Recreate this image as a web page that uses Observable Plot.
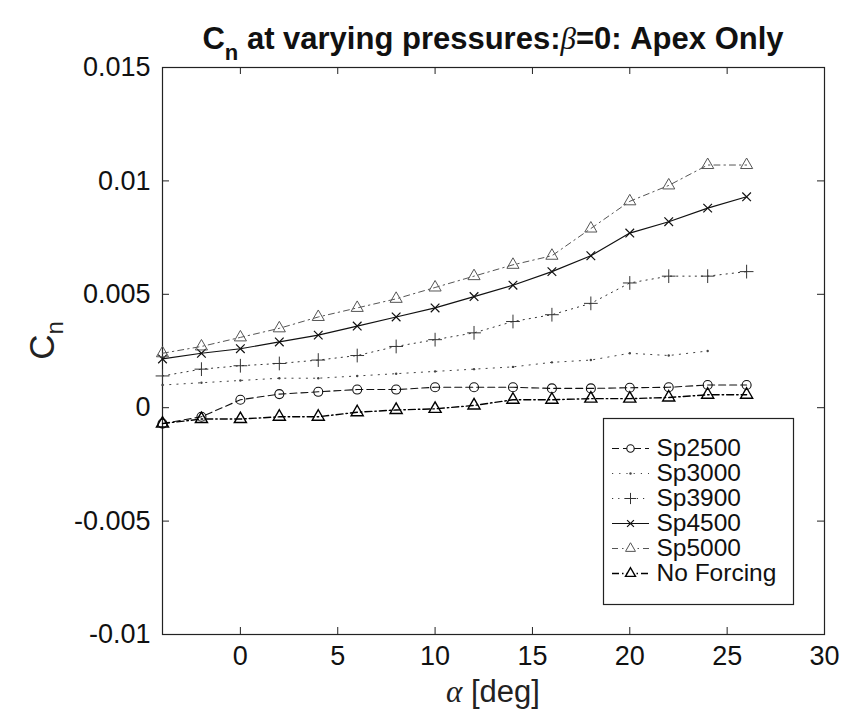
<!DOCTYPE html>
<html><head><meta charset="utf-8">
<script src="https://cdn.jsdelivr.net/npm/d3@7"></script>
<script src="https://cdn.jsdelivr.net/npm/@observablehq/plot@0.6"></script>
<style>
body{margin:0;background:#fff;}
#wrap{position:relative;width:843px;height:713px;overflow:hidden;}
#legend{position:absolute;left:603px;top:418px;}
</style></head><body><div id="wrap"></div><div id="legend"></div>
<script>
// ---- data ----
const alpha = [-4,-2,0,2,4,6,8,10,12,14,16,18,20,22,24,26];
const alpha3000 = [-4,-2,0,2,4,6,8,10,12,14,16,18,20,22,24];
const sp2500 = [-0.0007,-0.0004,0.00035,0.0006,0.0007,0.0008,0.0008,0.0009,0.0009,0.0009,0.00085,0.00085,0.00088,0.0009,0.001,0.001];
const sp3000 = [0.001,0.0011,0.0012,0.0013,0.0013,0.0014,0.0015,0.0016,0.0017,0.0018,0.002,0.0021,0.0024,0.0023,0.0025];
const sp3900 = [0.0014,0.0017,0.00185,0.00195,0.0021,0.0023,0.0027,0.003,0.0033,0.0038,0.0041,0.0046,0.0055,0.0058,0.0058,0.006];
const sp4500 = [0.00215,0.0024,0.0026,0.0029,0.0032,0.0036,0.004,0.0044,0.0049,0.0054,0.006,0.0067,0.0077,0.0082,0.0088,0.0093];
const sp5000 = [0.0024,0.0027,0.0031,0.0035,0.004,0.0044,0.0048,0.0053,0.0058,0.0063,0.0067,0.0079,0.0091,0.0098,0.0107,0.0107];
const noForcing = [-0.0007,-0.0005,-0.0005,-0.0004,-0.0004,-0.0002,-0.0001,-0.00005,0.0001,0.00035,0.00035,0.0004,0.0004,0.00045,0.00057,0.00057];
const seriesNames = ["Sp2500","Sp3000","Sp3900","Sp4500","Sp5000","No Forcing"];
const xTicks = [0,5,10,15,20,25,30];
const yTicks = [-0.01,-0.005,0,0.005,0.01,0.015];

// ---- styles (per series) ----
const styles = {
  "Sp2500":     {x: alpha,     y: sp2500,    dash: "7,4",       symbol: "circle",   r: 4.5, stroke: "#111", sw: 1.1},
  "Sp3000":     {x: alpha3000, y: sp3000,    dash: "1.2,6",     symbol: "dotsmall", r: 1.2, stroke: "#444", sw: 1},
  "Sp3900":     {x: alpha,     y: sp3900,    dash: "1.2,5",     symbol: "plus",     r: 4.5, stroke: "#333", sw: 1},
  "Sp4500":     {x: alpha,     y: sp4500,    dash: null,        symbol: "times",    r: 4,   stroke: "#111", sw: 1.2},
  "Sp5000":     {x: alpha,     y: sp5000,    dash: "6,4,1.5,4", symbol: "triangle", r: 4.5, stroke: "#555", sw: 1},
  "No Forcing": {x: alpha,     y: noForcing, dash: "7,3,1.5,3", symbol: "triangle", r: 4.5, stroke: "#000", sw: 1.4}
};

const rows = seriesNames.flatMap(name => styles[name].y.map((v, i) => ({series: name, alpha: styles[name].x[i], cn: v})));

function seriesMarks(name) {
  const s = styles[name];
  const d = rows.filter(r => r.series === name);
  const line = Plot.line(d, {x: "alpha", y: "cn", stroke: s.stroke, strokeWidth: s.sw, strokeDasharray: s.dash || undefined});
  const dot = s.symbol === "dotsmall"
    ? Plot.dot(d, {x: "alpha", y: "cn", r: s.r, fill: s.stroke, stroke: "none"})
    : Plot.dot(d, {x: "alpha", y: "cn", symbol: s.symbol, r: s.r, stroke: s.stroke, strokeWidth: s.sw, fill: "none"});
  return [line, dot];
}

const W = 843, H = 713, mL = 162, mR = 19, mT = 67, mB = 79;
const pw = W - mL - mR, ph = H - mT - mB, tk = 7;

const chart = Plot.plot({
  width: W, height: H,
  marginLeft: mL, marginRight: mR, marginTop: mT, marginBottom: mB,
  style: {fontFamily: "'Liberation Sans', Arial, sans-serif", fontSize: "27px", background: "white", color: "#111", overflow: "visible"},
  x: {domain: [-4, 30]},
  y: {domain: [-0.01, 0.015]},
  marks: [
    Plot.frame({stroke: "#222", strokeWidth: 1.2}),
    Plot.tickX(xTicks, {x: d => d, insetBottom: ph - tk, stroke: "#222"}),
    Plot.tickX(xTicks, {x: d => d, insetTop: ph - tk, stroke: "#222"}),
    Plot.tickY(yTicks, {y: d => d, insetRight: pw - tk, stroke: "#222"}),
    Plot.tickY(yTicks, {y: d => d, insetLeft: pw - tk, stroke: "#222"}),
    Plot.axisX({ticks: xTicks, tickSize: 0, tickPadding: 11, tickFormat: d => String(d), label: null}),
    Plot.axisY({ticks: yTicks, tickSize: 0, tickPadding: 12, tickFormat: d => String(d), label: null}),
    ...seriesNames.flatMap(seriesMarks)
  ]
});

document.getElementById("wrap").appendChild(chart);

// titles / axis labels as real text
const svg = d3.select(chart);
const title = svg.append("text")
  .attr("x", mL + pw / 2).attr("y", 49)
  .attr("text-anchor", "middle")
  .attr("font-size", 31).attr("font-weight", "bold")
  .attr("font-family", "'Liberation Sans', Arial, sans-serif")
  .attr("fill", "#111");
title.append("tspan").text("C");
title.append("tspan").attr("dy", 11).attr("font-size", 22).text("n");
title.append("tspan").attr("dy", -11).text(" at varying pressures:");
title.append("tspan").attr("font-family", "'Liberation Serif', serif").attr("font-style", "italic").attr("font-weight", "normal").text("β");
title.append("tspan").text("=0: Apex Only");

const xl = svg.append("text")
  .attr("x", mL + pw / 2).attr("y", 702)
  .attr("text-anchor", "middle")
  .attr("font-size", 31)
  .attr("font-family", "'Liberation Sans', Arial, sans-serif")
  .attr("fill", "#222");
xl.append("tspan").attr("font-family", "'Liberation Serif', serif").attr("font-style", "italic").text("α");
xl.append("tspan").text(" [deg]");

const yl = svg.append("text")
  .attr("transform", `translate(54,${mT + ph / 2 - 10}) rotate(-90)`)
  .attr("text-anchor", "middle")
  .attr("font-size", 35)
  .attr("font-family", "'Liberation Sans', Arial, sans-serif")
  .attr("fill", "#222");
yl.append("tspan").text("C");
yl.append("tspan").attr("dy", 9).attr("font-size", 24).text("n");

// legend as a small Plot
const legend = Plot.plot({
  width: 190, height: 186,
  margin: 0,
  style: {fontFamily: "'Liberation Sans', Arial, sans-serif", fontSize: "24.5px", background: "white", color: "#111", overflow: "visible"},
  x: {domain: [0, 190], range: [0, 190], axis: null},
  y: {type: "point", domain: seriesNames, range: [16, 169], axis: null},
  marks: [
    Plot.frame({fill: "white", stroke: "#222", strokeWidth: 1.2}),
    ...seriesNames.flatMap(name => {
      const s = styles[name];
      return [
        Plot.ruleY([name], {y: d => d, x1: 9, x2: 46, stroke: s.stroke, strokeWidth: s.sw, strokeDasharray: s.dash || undefined}),
        s.symbol === "dotsmall"
          ? Plot.dot([name], {x: () => 27, y: d => d, r: s.r, fill: s.stroke})
          : Plot.dot([name], {x: () => 27, y: d => d, symbol: s.symbol, r: s.r - 0.8, stroke: s.stroke, strokeWidth: s.sw, fill: "white"})
      ];
    }),
    Plot.text(seriesNames, {x: () => 53, y: d => d, text: d => d, textAnchor: "start", fill: "#111"})
  ]
});
document.getElementById("legend").appendChild(legend);
</script>
</body></html>
